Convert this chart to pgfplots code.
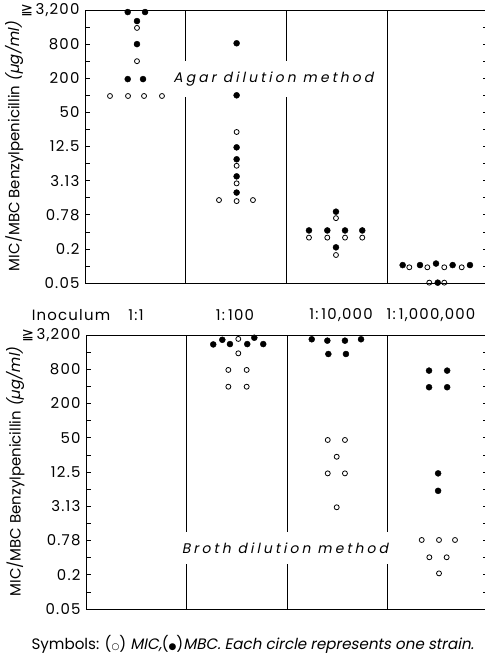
\documentclass[border=0pt]{standalone}
\usepackage{pgfplots}
\pgfplotsset{compat=1.18}
\usepackage{fontspec}
\setmainfont{Poppins}[AutoFakeSlant=0.2]
\newfontfamily\dejavu{DejaVu Sans}
\newfontfamily\spaced{Poppins}[LetterSpace=22,AutoFakeSlant=0.2]
\newfontfamily\wide{Poppins}[LetterSpace=8,AutoFakeSlant=0.2]

\tikzset{sep/.style={line width=0.8pt}}
\pgfplotsset{
  panel/.style={
    scale only axis, clip=false,
    xmin=0, xmax=4, ymin=0, ymax=16,
    xtick=\empty, ytick={0,2,...,16}, minor ytick={1,3,...,15},
    yticklabels={0.05,0.2,0.78,3.13,12.5,50,200,800,{{\dejavu ≧}\,3,200}},
    /pgf/number format/assume math mode=true,
    tick align=inside, major tick length=5bp, minor tick length=5bp,
    tick style={black, line width=0.6pt},
    axis line style={line width=0.8pt},
    yticklabel style={font=\wide\fontsize{15}{16}\selectfont, xshift=-2bp},
    ylabel={MIC/MBC Benzylpenicillin \textit{(µg/ml)}},
    ylabel style={at={(axis description cs:-0.175,0.5)}, anchor=center,
      font=\fontsize{15}{16}\selectfont},
  },
  mic/.style={only marks, mark=o, mark size=2.5bp,
    mark options={black, line width=0.8pt}},
  mbc/.style={only marks, mark=*, mark size=3bp,
    mark options={black, fill=black}},
}

\begin{document}
\begin{tikzpicture}
\useasboundingbox (0bp,0bp) rectangle (485bp,656bp);

% agar dilution
\begin{axis}[panel, at={(85bp,373bp)}, anchor=south west, width=403bp, height=273bp]
\draw[sep] (axis cs:1,0) -- (axis cs:1,16);
\draw[sep] (axis cs:2,0) -- (axis cs:2,16);
\draw[sep] (axis cs:3,0) -- (axis cs:3,16);
\node[fill=white, inner xsep=12bp, inner ysep=11bp,
  font=\spaced\itshape\fontsize{14}{16}\selectfont] at (axis cs:1.87,11.96) {Agar dilution method};
\addplot[mbc] coordinates {
  (0.424,15.88) (0.596,15.88) (0.516,15.35) (0.516,14.0) (0.424,11.95) (0.576,11.95)
  (1.505,14.05) (1.505,11.0) (1.505,7.95) (1.505,7.25) (1.505,6.25) (1.505,5.3)
  (2.491,4.18) (2.223,3.08) (2.405,3.08) (2.581,3.08) (2.752,3.08) (2.491,2.09)
  (3.153,1.05) (3.325,1.05) (3.484,1.14) (3.649,1.05) (3.821,1.05) (3.501,0.02)
};
\addplot[mic] coordinates {
  (0.516,14.95) (0.516,13.0) (0.248,10.96) (0.427,10.96) (0.586,10.96) (0.764,10.96)
  (1.505,8.85) (1.505,6.87) (1.505,5.84) (1.505,4.8) (1.33,4.86) (1.667,4.86)
  (2.491,3.8) (2.223,2.66) (2.405,2.66) (2.581,2.66) (2.752,2.66) (2.491,1.64)
  (3.219,0.92) (3.398,0.92) (3.566,0.92) (3.739,0.92) (3.417,0.02) (3.566,0.02)
};
\end{axis}

% inoculum row
\begin{scope}[font=\wide\fontsize{15}{17}\selectfont]
\node at (71bp,341bp) {Inoculum};
\node at (136bp,341bp) {1:1};
\node at (235bp,341bp) {1:\hspace{3bp}100};
\node at (341bp,341bp) {1:\hspace{3bp}10,000};
\node at (431bp,341bp) {1:\hspace{3bp}1,000,000};
\end{scope}

% broth dilution
\begin{axis}[panel, at={(86bp,47bp)}, anchor=south west, width=402.4bp, height=274bp]
\draw[sep] (axis cs:1,0) -- (axis cs:1,16);
\draw[sep] (axis cs:2,0) -- (axis cs:2,16);
\draw[sep] (axis cs:3,0) -- (axis cs:3,16);
\node[fill=white, inner xsep=12bp, inner ysep=11bp,
  font=\spaced\itshape\fontsize{14}{16}\selectfont] at (axis cs:1.978,3.56) {Broth dilution method};
\addplot[mbc] coordinates {
  (1.265,15.45) (1.355,15.72) (1.431,15.47) (1.603,15.47) (1.673,15.84) (1.762,15.47)
  (2.244,15.75) (2.399,15.67) (2.574,15.67) (2.734,15.75) (2.409,14.89) (2.584,14.89)
  (3.41,13.92) (3.59,13.92) (3.41,12.95) (3.59,12.95) (3.50,7.92) (3.50,6.9)
};
\addplot[mic] coordinates {
  (1.514,15.77) (1.514,14.93) (1.415,13.96) (1.597,13.96) (1.415,12.98) (1.597,12.98)
  (2.403,9.87) (2.574,9.87) (2.492,8.89) (2.403,7.92) (2.574,7.92) (2.492,5.94)
  (3.337,4.03) (3.509,4.03) (3.668,4.03) (3.413,3.02) (3.585,3.02) (3.509,2.08)
};
\end{axis}

\node[anchor=west, font=\fontsize{15.2}{17}\selectfont] at (28bp,12bp)
  {Symbols: ({\dejavu\fontsize{9}{10}\selectfont ○}) \textit{MIC,}({\dejavu\fontsize{9}{10}\selectfont ●})\textit{MBC. Each circle represents one strain.}};
\end{tikzpicture}
\end{document}
